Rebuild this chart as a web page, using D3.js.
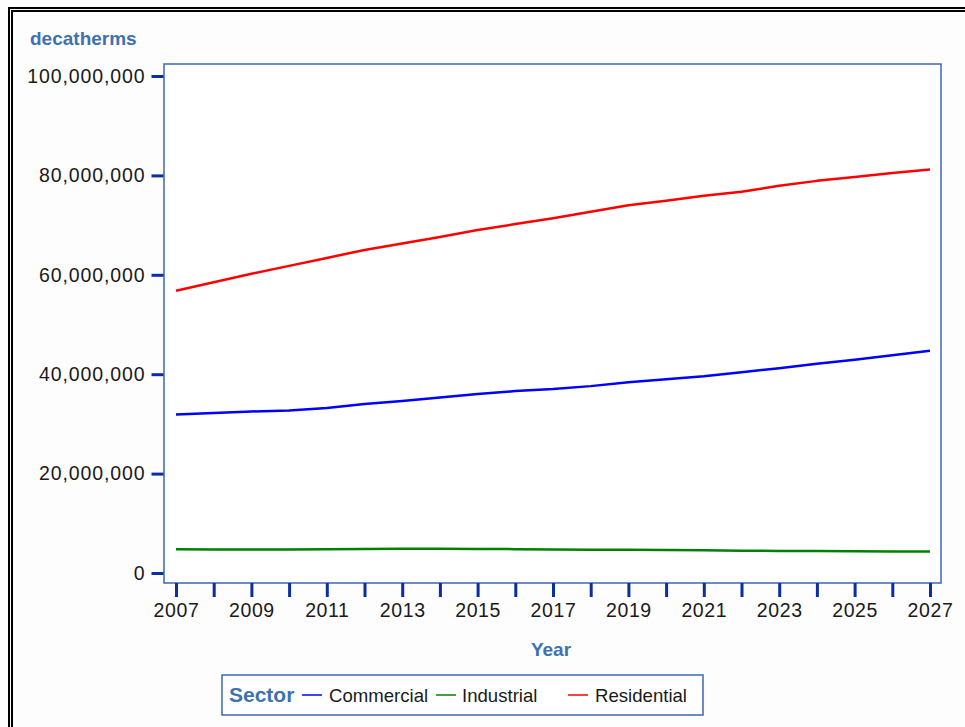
<!DOCTYPE html>
<html>
<head>
<meta charset="utf-8">
<script src="https://cdn.jsdelivr.net/npm/d3@7"></script>
<style>
  html, body { margin: 0; padding: 0; background: #fdfdfd; }
  svg { display: block; }
  text { font-family: "Liberation Sans", Arial, sans-serif; }
</style>
</head>
<body>
<svg id="chart" width="965" height="727"></svg>
<script>
// ---- data ----
const years = [2007,2008,2009,2010,2011,2012,2013,2014,2015,2016,2017,2018,2019,2020,2021,2022,2023,2024,2025,2026,2027];
const commercial = [31.9,32.2,32.5,32.7,33.2,34.0,34.6,35.3,36.0,36.6,37.0,37.6,38.4,39.0,39.6,40.4,41.2,42.1,42.9,43.8,44.7].map(v => v * 1e6);
const industrial = [4.8,4.75,4.75,4.75,4.8,4.85,4.9,4.9,4.85,4.8,4.75,4.7,4.7,4.65,4.6,4.5,4.45,4.45,4.4,4.35,4.35].map(v => v * 1e6);
const residential = [56.8,58.5,60.2,61.8,63.4,65.0,66.3,67.6,69.0,70.2,71.4,72.7,74.0,74.9,75.9,76.7,77.9,78.9,79.7,80.5,81.2].map(v => v * 1e6);
const seriesNames = ["Commercial", "Industrial", "Residential"];
const seriesColors = ["#0000ff", "#008000", "#ff0000"];
const yTicks = [0, 20000000, 40000000, 60000000, 80000000, 100000000];
const xTickLabels = [2007,2009,2011,2013,2015,2017,2019,2021,2023,2025,2027];
const yTitle = "decatherms";
const xTitle = "Year";
const legendTitle = "Sector";

const seriesValues = [commercial, industrial, residential];

const svg = d3.select("#chart");
const axisBlue = "#0b2ea0";
const frameBlue = "#3d65b8";
const titleBlue = "#3e72ae";

// outer frame (black double line top/left)
svg.append("rect").attr("x", 8).attr("y", 7).attr("width", 957).attr("height", 2).attr("fill", "#000");
svg.append("rect").attr("x", 11).attr("y", 10).attr("width", 954).attr("height", 2).attr("fill", "#000");
svg.append("rect").attr("x", 8).attr("y", 7).attr("width", 2).attr("height", 720).attr("fill", "#000");
svg.append("rect").attr("x", 11).attr("y", 10).attr("width", 2).attr("height", 717).attr("fill", "#000");

// plot box
const box = {x0: 164, y0: 64, x1: 941, y1: 583};
const x = d3.scaleLinear().domain([2007, 2027]).range([176, 930]);
const y = d3.scaleLinear().domain([0, 100000000]).range([573, 76]);

svg.append("rect")
  .attr("x", box.x0).attr("y", box.y0)
  .attr("width", box.x1 - box.x0).attr("height", box.y1 - box.y0)
  .attr("fill", "#ffffff").attr("stroke", frameBlue).attr("stroke-width", 1.5);

// y axis
const yAxis = d3.axisLeft(y).tickValues(yTicks).tickSize(12).tickPadding(6)
  .tickFormat(d3.format(","));
const gy = svg.append("g").attr("transform", `translate(${box.x0 - 0.5},0)`).call(yAxis);
gy.select(".domain").remove();
gy.selectAll(".tick line").attr("stroke", axisBlue).attr("stroke-width", 3);
gy.selectAll(".tick text").attr("fill", "#1a1a1a").style("font-size", "19.5px")
  .style("letter-spacing", "0.9px");

// x axis
const xAxis = d3.axisBottom(x).tickValues(years).tickSize(14).tickPadding(6)
  .tickFormat(d => xTickLabels.includes(d) ? String(d) : "");
const gx = svg.append("g").attr("transform", `translate(0,${box.y1})`).call(xAxis);
gx.select(".domain").remove();
gx.selectAll(".tick line").attr("stroke", axisBlue).attr("stroke-width", 3);
gx.selectAll(".tick text").attr("fill", "#1a1a1a").style("font-size", "19.5px")
  .style("letter-spacing", "0.6px");

// lines
const line = d3.line().x((d, i) => x(years[i])).y(d => y(d));
seriesValues.forEach((vals, k) => {
  svg.append("path").datum(vals)
    .attr("d", line)
    .attr("fill", "none")
    .attr("stroke", seriesColors[k])
    .attr("stroke-width", 2.5)
    .attr("stroke-linejoin", "round");
});

// titles
svg.append("text").attr("x", 30).attr("y", 45).text(yTitle)
  .attr("fill", titleBlue).style("font-weight", "bold").style("font-size", "19px");
svg.append("text").attr("x", 551).attr("y", 656).attr("text-anchor", "middle").text(xTitle)
  .attr("fill", titleBlue).style("font-weight", "bold").style("font-size", "19px");

// legend
const lg = svg.append("g");
lg.append("rect").attr("x", 222).attr("y", 675).attr("width", 481).attr("height", 40)
  .attr("fill", "#ffffff").attr("stroke", frameBlue).attr("stroke-width", 1.5);
lg.append("text").attr("x", 229).attr("y", 702).text(legendTitle)
  .attr("fill", titleBlue).style("font-weight", "bold").style("font-size", "21px");
const legendPos = [{lx: 302, tx: 329}, {lx: 436, tx: 462}, {lx: 568, tx: 595}];
seriesNames.forEach((name, k) => {
  const p = legendPos[k];
  lg.append("line").attr("x1", p.lx).attr("x2", p.lx + 20).attr("y1", 695).attr("y2", 695)
    .attr("stroke", seriesColors[k]).attr("stroke-width", 1.5);
  lg.append("text").attr("x", p.tx).attr("y", 702).text(name)
    .attr("fill", "#1a1a1a").style("font-size", "18.6px");
});
</script>
</body>
</html>
